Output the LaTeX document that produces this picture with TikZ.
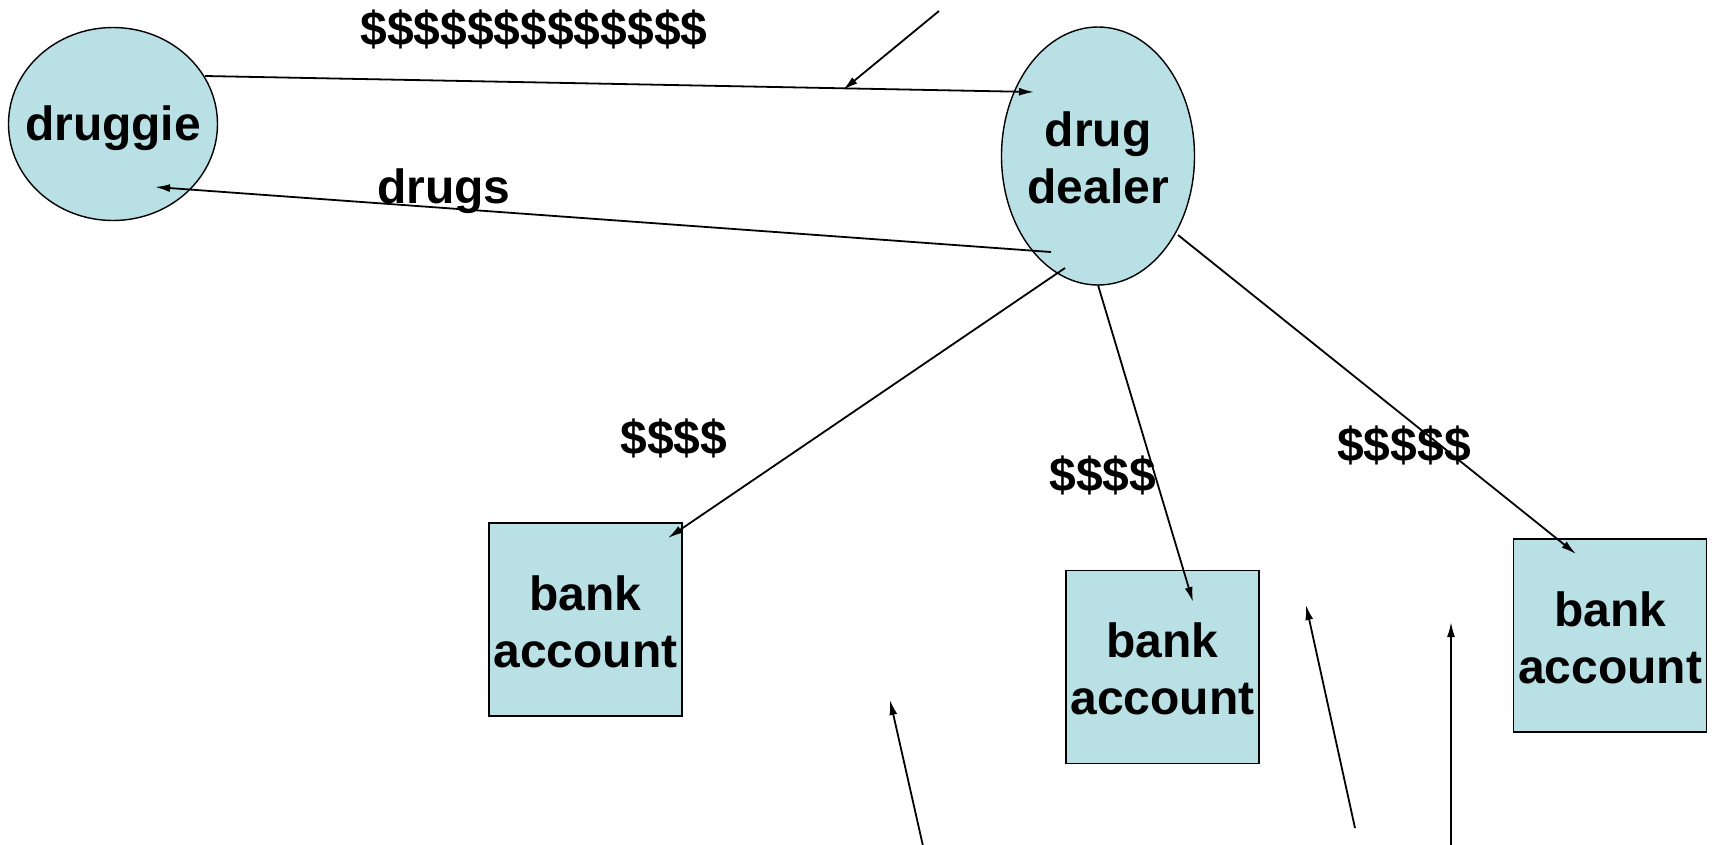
\documentclass[tikz,border=0pt]{standalone}
\usepackage{fontspec}
\setmainfont{Liberation Sans}
\usetikzlibrary{shapes.geometric,arrows.meta}
\definecolor{nodefill}{RGB}{185,224,228}
\begin{document}
\begin{tikzpicture}[x=1pt,y=-1pt,
  ell/.style={ellipse,draw=black,line width=1.4pt,fill=nodefill,inner sep=0pt},
  acct/.style={rectangle,draw=black,line width=1.6pt,fill=nodefill,inner sep=0pt,minimum width=193pt,minimum height=193pt},
  lbl/.style={font=\fontsize{48}{57}\selectfont\bfseries,align=center,inner sep=0pt},
  arr/.style={-{Latex[length=15pt,width=8pt]},line width=1.8pt}]
\useasboundingbox (0,0) rectangle (1716,844);
\clip (0,0) rectangle (1716,844);
% nodes
\node[ell,minimum width=209pt,minimum height=193pt] (druggie) at (113,124) {};
\node[lbl] (druggietxt) at (113,128) {druggie};
\node[ell,minimum width=193pt,minimum height=258pt] (dealer) at (1098,156) {};
\node[lbl] (dealertxt) at (1098,158) {drug\\dealer};
\node[acct] (bankA) at (585.5,619.5) {};
\node[lbl] (bankAtxt) at (585.5,622) {bank\\account};
\node[acct] (bankB) at (1162.5,667) {};
\node[lbl] (bankBtxt) at (1162.5,669) {bank\\account};
\node[acct] (bankC) at (1610,635.5) {};
\node[lbl] (bankCtxt) at (1610,637.5) {bank\\account};
% labels
\node[lbl] (money) at (534,29) {\$\$\$\$\$\$\$\$\$\$\$\$\$};
\node[lbl] (drugs) at (444,191) {drugs};
\node[lbl] (mA) at (674,438) {\$\$\$\$};
\node[lbl] (mB) at (1103,475) {\$\$\$\$};
\node[lbl] (mC) at (1404,445) {\$\$\$\$\$};
% coordinates
\coordinate (p1s) at (205,76);
\coordinate (p1e) at (1034,92);
\coordinate (p2s) at (939,11);
\coordinate (p2e) at (843,90);
\coordinate (p3s) at (1051,252);
\coordinate (p3e) at (155,187);
\coordinate (p4s) at (1065,268);
\coordinate (p4e) at (668,538);
\coordinate (p5s) at (1098,285);
\coordinate (p5e) at (1193,602);
\coordinate (p6s) at (1178,235);
\coordinate (p6e) at (1576,554);
\coordinate (q1s) at (923,846);
\coordinate (q1e) at (890,700);
\coordinate (q2s) at (1355,828);
\coordinate (q2e) at (1306,605);
\coordinate (q3s) at (1451,846);
\coordinate (q3e) at (1451,622);
% connectors
\draw[arr] (p1s) -- (p1e);
\draw[arr] (p2s) -- (p2e);
\draw[arr] (p3s) -- (p3e);
\draw[arr] (p4s) -- (p4e);
\draw[arr] (p5s) -- (p5e);
\draw[arr] (p6s) -- (p6e);
\draw[arr] (q1s) -- (q1e);
\draw[arr] (q2s) -- (q2e);
\draw[arr] (q3s) -- (q3e);
\end{tikzpicture}
\end{document}
